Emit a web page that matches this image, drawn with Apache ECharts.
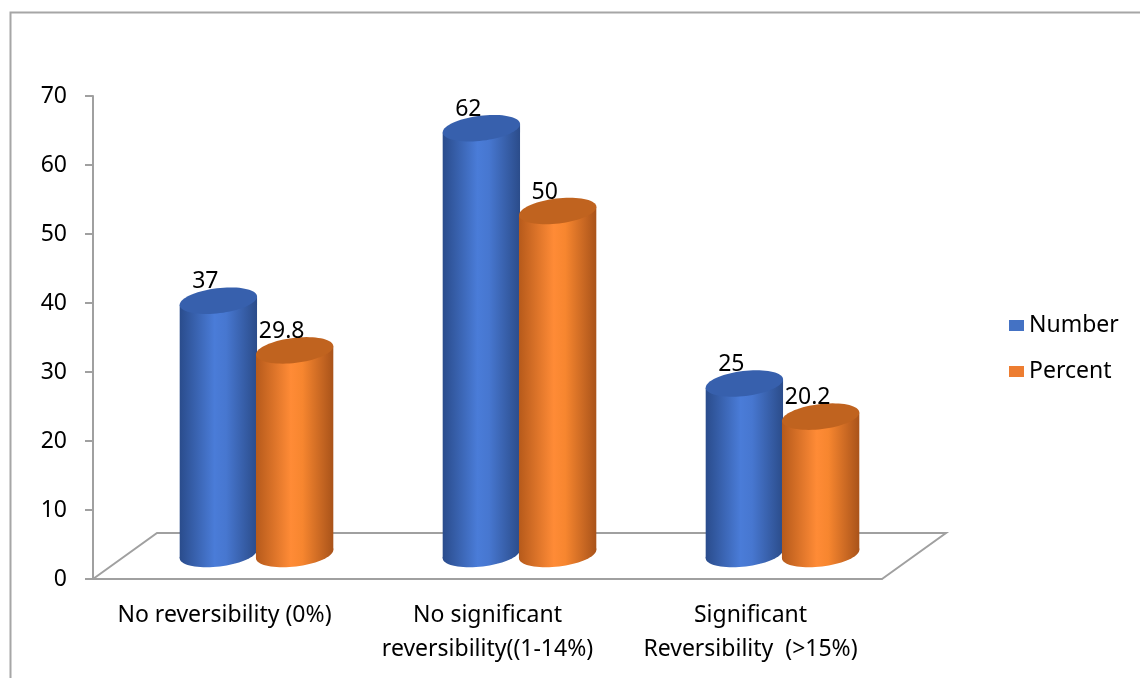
<!DOCTYPE html>
<html>
<head>
<meta charset="utf-8">
<script src="https://cdn.jsdelivr.net/npm/echarts@6/dist/echarts.min.js"></script>
<style>
  html, body { margin: 0; padding: 0; background: #fff; }
  #chart { width: 1140px; height: 678px; }
</style>
</head>
<body>
<div id="chart"></div>
<script>
// data
const categories = ['No reversibility (0%)', 'No significant\nreversibility((1-14%)', 'Significant\nReversibility  (>15%)'];
const numberValues = [37, 62, 25];
const percentValues = [29.8, 50, 20.2];
const yTicks = [0, 10, 20, 30, 40, 50, 60, 70];

const chart = echarts.init(document.getElementById('chart'));
const FONT = 'Noto Sans';

// colours for the cylinders
const palette = {
    blue: { side: ['#2A4C8C', '#4A7CD8', '#4777D0', '#2B4C8A'], top: '#3760AD', legend: '#4472C4' },
    orange: { side: ['#B65A1B', '#FF8B36', '#F7862F', '#A9531A'], top: '#C0631F', legend: '#ED7D31' }
};

// depth of the floor (pixels), cylinders sit halfway in
const DEPTH = [64, -46];
const TILT = 0.12; // slight tilt of the cylinder ends

// tilted ellipse as a list of points (right end a bit higher)
const ellipsePts = (cx, cy, rx, ry) => {
    const pts = [];
    const s = Math.sin(TILT), c = Math.cos(TILT);
    for (let i = 0; i < 72; i++) {
        const t = i / 72 * Math.PI * 2;
        const x = rx * Math.cos(t), y = ry * Math.sin(t);
        pts.push([cx + x * c + y * s, cy - x * s + y * c]);
    }
    return pts;
};

const cylinder = (colors, side) => (params, api) => {
    const cat = api.value(0);
    const val = api.value(1);
    const base = api.coord([cat, 0]);
    const top = api.coord([cat, val]);
    const bw = api.size([1, 0])[0];
    const rx = bw * 0.148;
    const ry = 12.5;
    const cx = base[0] + DEPTH[0] / 2 + side * bw * 0.145;
    const by = base[1] + DEPTH[1] / 2 - 2;
    const ty = top[1] + DEPTH[1] / 2;
    // tips of the tilted ellipse
    const s = Math.sin(TILT), c = Math.cos(TILT);
    const L = Math.sqrt(rx * rx * c * c + ry * ry * s * s);
    const d = (rx * rx - ry * ry) * s * c / L;
    const grad = new echarts.graphic.LinearGradient(0, 0, 1, 0, [
        { offset: 0, color: colors.side[0] },
        { offset: 0.45, color: colors.side[1] },
        { offset: 0.6, color: colors.side[2] },
        { offset: 1, color: colors.side[3] }
    ]);
    return {
        type: 'group',
        children: [
            { type: 'polygon', shape: { points: ellipsePts(cx, by, rx, ry) }, style: { fill: grad } },
            {
                type: 'polygon',
                shape: { points: [[cx - L, ty + d], [cx - L, by + d], [cx + L, by - d], [cx + L, ty - d]] },
                style: { fill: grad }
            },
            { type: 'polygon', shape: { points: ellipsePts(cx, ty, rx, ry) }, style: { fill: colors.top } },
            {
                type: 'text',
                style: {
                    text: String(val), x: cx - 13, y: ty - 19,
                    align: 'center', verticalAlign: 'middle',
                    fontSize: 23, fontFamily: FONT, fill: '#000'
                }
            }
        ]
    };
};

// 3D floor drawn from the grid extents
const floor = (params, api) => {
    const cs = params.coordSys;
    const x0 = cs.x, x1 = cs.x + cs.width, y0 = cs.y + cs.height;
    return {
        type: 'polyline',
        shape: { points: [[x0, y0], [x0 + DEPTH[0], y0 + DEPTH[1]], [x1 + DEPTH[0], y0 + DEPTH[1]], [x1, y0]] },
        style: { stroke: '#A0A0A0', lineWidth: 2, fill: null },
        silent: true
    };
};

const option = {
    animation: false,
    graphic: [{
        type: 'rect', left: 8, top: 10,
        shape: { width: 1150, height: 700 },
        style: { stroke: '#A6A6A6', lineWidth: 2, fill: 'none' }
    }],
    grid: { left: 93, right: 258, top: 96, bottom: 99 },
    legend: {
        orient: 'vertical', left: 1004, top: 309,
        itemWidth: 15, itemHeight: 11, itemGap: 23,
        icon: 'rect',
        textStyle: { fontSize: 23, fontFamily: FONT, color: '#000' },
        data: ['Number', 'Percent']
    },
    xAxis: {
        type: 'category',
        data: categories,
        axisLine: { lineStyle: { color: '#A0A0A0', width: 2 } },
        axisTick: { length: 9, lineStyle: { color: '#A0A0A0', width: 2 } },
        axisLabel: {
            interval: 0, hideOverlap: false,
            fontSize: 23, fontFamily: FONT, color: '#000', margin: 19, lineHeight: 34
        }
    },
    yAxis: {
        type: 'value', min: yTicks[0], max: yTicks[yTicks.length - 1], interval: 10,
        splitLine: { show: false },
        axisLine: { show: true, lineStyle: { color: '#A0A0A0', width: 2 } },
        axisTick: { show: true, length: 8, lineStyle: { color: '#A0A0A0', width: 2 } },
        axisLabel: { fontSize: 23, fontFamily: FONT, color: '#000', margin: 26 }
    },
    series: [
        { type: 'custom', name: 'floor', renderItem: floor, data: [[0, 0]], z: 1, silent: true },
        {
            type: 'custom', name: 'Number', renderItem: cylinder(palette.blue, -1),
            itemStyle: { color: palette.blue.legend },
            data: numberValues.map((v, i) => [i, v]), encode: { x: 0, y: 1 }, z: 2
        },
        {
            type: 'custom', name: 'Percent', renderItem: cylinder(palette.orange, 1),
            itemStyle: { color: palette.orange.legend },
            data: percentValues.map((v, i) => [i, v]), encode: { x: 0, y: 1 }, z: 3
        }
    ]
};

chart.setOption(option);
</script>
</body>
</html>
